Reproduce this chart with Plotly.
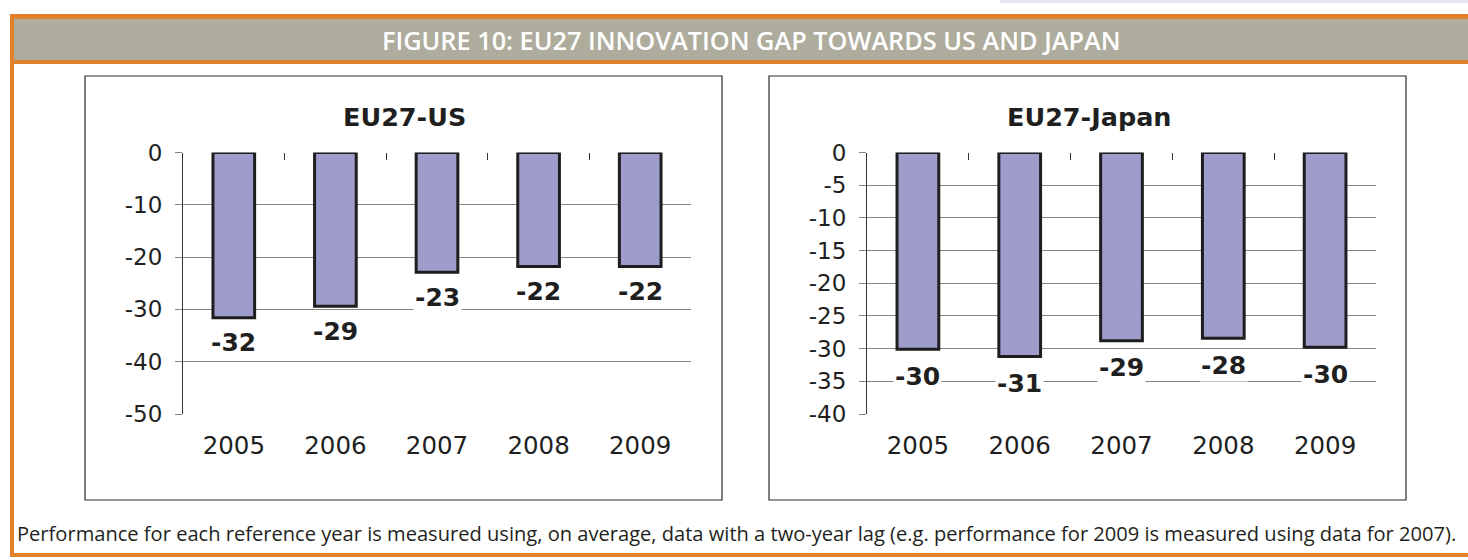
import plotly.graph_objects as go

# ---------------- data ----------------
years = ["2005", "2006", "2007", "2008", "2009"]
eu_us = [-31.6, -29.4, -22.9, -21.8, -21.8]
eu_japan = [-30.1, -31.2, -28.8, -28.4, -29.8]
us_ticks = [0, -10, -20, -30, -40, -50]
jp_ticks = [0, -5, -10, -15, -20, -25, -30, -35, -40]
header_text = "FIGURE 10: EU27 INNOVATION GAP TOWARDS US AND JAPAN"
title_us = "EU27-US"
title_jp = "EU27-Japan"
caption = ("Performance for each reference year is measured using, on average, data with a "
           "two-year lag (e.g. performance for 2009 is measured using data for 2007).")

# ---------------- styling ----------------
W, H = 1468, 560
ORANGE = "#e2812c"
GREY = "#aeac9d"
BAR_FILL = "#9e9ccb"
BAR_LINE = "#1e1e1e"
GRID = "#858585"
TXT = "#1f1f1f"
FONT = "DejaVu Sans"


def px(x):
    return x / W


def py(y):
    return 1 - y / H


fig = go.Figure()

bar_style = dict(marker=dict(color=BAR_FILL, line=dict(color=BAR_LINE, width=3)),
                 width=0.41, hoverinfo="skip", showlegend=False)
fig.add_trace(go.Bar(x=years, y=eu_us, xaxis="x", yaxis="y", **bar_style))
fig.add_trace(go.Bar(x=years, y=eu_japan, xaxis="x2", yaxis="y2", **bar_style))
# invisible helpers so the top tick axes know their categories
fig.add_trace(go.Scatter(x=years, y=eu_us, xaxis="x3", yaxis="y", mode="markers",
                         marker=dict(opacity=0), hoverinfo="skip", showlegend=False))
fig.add_trace(go.Scatter(x=years, y=eu_japan, xaxis="x4", yaxis="y2", mode="markers",
                         marker=dict(opacity=0), hoverinfo="skip", showlegend=False))

# plot-area geometry (pixels)
L_BOX = (85, 722)
R_BOX = (769, 1406)
Y_TOP_PX, Y_BOT_PX = 152.5, 414

xcommon = dict(type="category", categoryorder="array", categoryarray=years,
               range=[-0.5, len(years) - 0.5], automargin=False,
               showgrid=False, zeroline=False, showline=False, ticks="",
               tickfont=dict(family=FONT, size=24.5, color=TXT), ticklabelstandoff=14,
               fixedrange=True)
topcommon = dict(type="category", categoryorder="array", categoryarray=years,
                 range=[-0.5, len(years) - 0.5], automargin=False,
                 side="top", tickson="boundaries", ticks="inside", ticklen=7,
                 tickcolor="#333", tickwidth=1, showticklabels=False, showgrid=False,
                 zeroline=False, showline=False, fixedrange=True)
ycommon = dict(showgrid=True, gridcolor=GRID, gridwidth=1, zeroline=False, automargin=False,
               showline=True, linecolor="#333", linewidth=1, ticks="outside",
               ticklen=7, tickcolor=GRID, tickfont=dict(family=FONT, size=23, color=TXT),
               ticklabelstandoff=8, tickmode="array", fixedrange=True)

xl = [px(L_BOX[0] + 98), px(L_BOX[1] - 31)]
xr = [px(R_BOX[0] + 98), px(R_BOX[1] - 30)]
yd = [py(Y_BOT_PX), py(Y_TOP_PX)]

fig.update_layout(
    template="none",
    width=W, height=H, margin=dict(l=0, r=0, t=0, b=0, pad=0), autosize=False,
    paper_bgcolor="white", plot_bgcolor="rgba(0,0,0,0)",
    xaxis=dict(domain=xl, anchor="y", **xcommon),
    xaxis2=dict(domain=xr, anchor="y2", **xcommon),
    xaxis3=dict(domain=xl, anchor="y", overlaying="x", **topcommon),
    xaxis4=dict(domain=xr, anchor="y2", overlaying="x2", **topcommon),
    yaxis=dict(domain=yd, anchor="x", range=[-50, 0], tickvals=us_ticks,
               ticktext=[str(v) for v in us_ticks], **ycommon),
    yaxis2=dict(domain=yd, anchor="x2", range=[-40, 0], tickvals=jp_ticks,
                ticktext=[str(v) for v in jp_ticks], **ycommon),
)

shapes = []
# faint line at very top right
shapes.append(dict(type="rect", xref="paper", yref="paper", x0=px(1000), x1=px(1480),
                   y0=py(3), y1=py(0), fillcolor="#e3e7ef", line=dict(width=0), layer="below"))
# orange header block and grey band
shapes.append(dict(type="rect", xref="paper", yref="paper", x0=px(10), x1=px(1490),
                   y0=py(64), y1=py(14), fillcolor=ORANGE, line=dict(width=0), layer="below"))
shapes.append(dict(type="rect", xref="paper", yref="paper", x0=px(14), x1=px(1490),
                   y0=py(60), y1=py(19), fillcolor=GREY, line=dict(width=0), layer="below"))
# left and bottom orange frame
shapes.append(dict(type="rect", xref="paper", yref="paper", x0=px(10), x1=px(14),
                   y0=py(557), y1=py(14), fillcolor=ORANGE, line=dict(width=0), layer="below"))
shapes.append(dict(type="rect", xref="paper", yref="paper", x0=px(10), x1=px(1490),
                   y0=py(557), y1=py(553), fillcolor=ORANGE, line=dict(width=0), layer="below"))
# chart boxes
for bx in (L_BOX, R_BOX):
    shapes.append(dict(type="rect", xref="paper", yref="paper", x0=px(bx[0]), x1=px(bx[1]),
                       y0=py(500), y1=py(76), line=dict(color="#2a2a2a", width=1.2),
                       fillcolor="rgba(0,0,0,0)", layer="below"))
fig.update_layout(shapes=shapes)

ann = []
ann.append(dict(text=header_text, xref="paper", yref="paper", x=px(751), y=py(40),
                showarrow=False, xanchor="center", yanchor="middle",
                font=dict(family="Open Sans", size=25.3, color="white", weight=600)))
ann.append(dict(text=f"<b>{title_us}</b>", xref="paper", yref="paper", x=px(404), y=py(117),
                showarrow=False, xanchor="center", yanchor="middle",
                font=dict(family=FONT, size=25.5, color=TXT)))
ann.append(dict(text=f"<b>{title_jp}</b>", xref="paper", yref="paper", x=px(1089), y=py(117),
                showarrow=False, xanchor="center", yanchor="middle",
                font=dict(family=FONT, size=25.5, color=TXT)))
ann.append(dict(text=caption, xref="paper", yref="paper", x=px(15), y=py(533),
                showarrow=False, xanchor="left", yanchor="middle",
                font=dict(family="Open Sans", size=20.1, color="#231f20")))

# value labels (placed at each bar's category index and value)
for vals, xr_, yr_, shift in ((eu_us, "x", "y", -25), (eu_japan, "x2", "y2", -27)):
    for i, v in enumerate(vals):
        ann.append(dict(text=f"<b>{round(v)}</b>", xref=xr_, yref=yr_, x=i, y=v, yshift=shift,
                        showarrow=False, xanchor="center", yanchor="middle",
                        bgcolor="white", borderpad=1,
                        font=dict(family=FONT, size=25, color=TXT)))
fig.update_layout(annotations=ann)

fig.write_html("out.html",
               config={"displayModeBar": False},
               post_script="document.body.style.margin='0px';"
                           "document.body.style.overflow='hidden';")
